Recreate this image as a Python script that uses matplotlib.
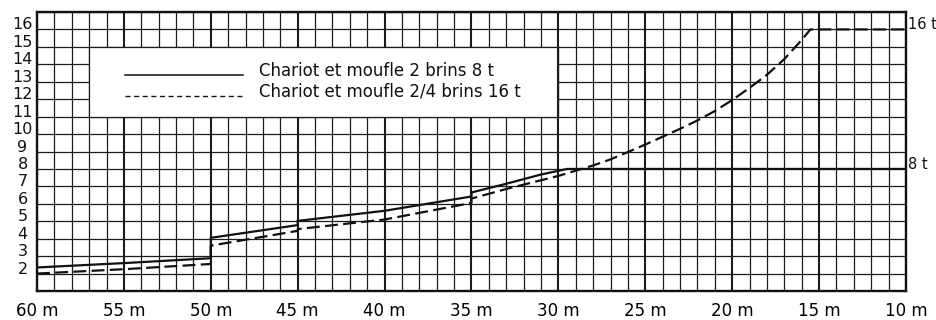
import numpy as np
import matplotlib
matplotlib.use("Agg")
import matplotlib.pyplot as plt
from matplotlib.patches import Rectangle

# Load chart: permissible load (t) versus hook reach (m)
reach_ticks = [60, 55, 50, 45, 40, 35, 30, 25, 20, 15, 10]
reach_labels = [f"{r} m" for r in reach_ticks]
load_labels = list(range(2, 17))

# Trolley with 2-fall block, 8 t max (repeated reach = step change)
reach_8t = [60, 55, 50, 50, 45, 45, 40, 35, 35, 33, 31, 29.5, 10]
load_8t = [2.35, 2.6, 2.88, 4.05, 4.78, 5.02, 5.6, 6.42, 6.65, 7.15, 7.68, 8.0, 8.0]

# Trolley with 2/4-fall block, 16 t max
reach_16t = [60, 55, 50, 50, 45, 45, 40, 35, 35, 33, 31, 30, 29, 28, 27, 26,
             25, 24, 23, 22, 21, 20, 19, 18, 17, 16, 15.5, 10]
load_16t = [2.0, 2.25, 2.55, 3.6, 4.45, 4.55, 5.1, 6.05, 6.3, 6.85, 7.35, 7.6,
            7.9, 8.2, 8.55, 8.97, 9.4, 9.85, 10.3, 10.78, 11.32, 11.95, 12.65,
            13.4, 14.3, 15.4, 16.0, 16.0]

legend_8t = "Chariot et moufle 2 brins 8 t"
legend_16t = "Chariot et moufle 2/4 brins 16 t"

W, H = 937, 320
fig = plt.figure(figsize=(W / 100, H / 100), dpi=100)
fig.patch.set_facecolor("white")
left, right, top, bottom = 37, 906, 12, 291
ax = fig.add_axes([left / W, (H - bottom) / H, (right - left) / W, (bottom - top) / H])

ax.set_xlim(60, 10)
ax.set_ylim(1, 17)

grid_col = "#1c1c1c"
ax.set_xticks(reach_ticks)
ax.set_xticklabels(reach_labels, fontsize=12, family="DejaVu Sans")
ax.set_xticks(np.arange(60, 9, -1), minor=True)
ax.set_yticks(np.arange(1, 18, 1))
ax.set_yticklabels([])
ax.tick_params(axis="both", which="both", length=0)
ax.tick_params(axis="x", pad=8)
ax.set_axisbelow(True)
ax.grid(which="major", axis="x", color=grid_col, lw=1.5)
ax.grid(which="minor", axis="x", color=grid_col, lw=0.9)
ax.grid(which="major", axis="y", color=grid_col, lw=0.9)
for sp in ax.spines.values():
    sp.set_linewidth(1.7)
    sp.set_color("#111111")

# Left load scale: figures sit on their grid line
for v in load_labels:
    ax.annotate(str(v), xy=(0, v), xycoords=("axes fraction", "data"),
                xytext=(-10.4, 0), textcoords="offset points",
                ha="center", va="baseline", fontsize=11.5, color="#111111")

# Legend panel cut out of the grid
ax.add_patch(Rectangle((57, 11), -27, 4, facecolor="white", edgecolor=grid_col,
                       lw=0.9, zorder=1))
ax.vlines(30, 11, 15, color=grid_col, lw=1.5, zorder=1.1)

ax.plot([54.94, 48.15], [13.36, 13.36], color="#111111", lw=1.1, zorder=2)
ax.plot([54.94, 48.15], [12.16, 12.16], color="#111111", lw=1.0,
        linestyle=(0, (3.6, 2.6)), zorder=2)
ax.text(47.23, 13.59, legend_8t, fontsize=12, va="center", ha="left",
        color="#111111", zorder=2)
ax.text(47.23, 12.45, legend_16t, fontsize=12, va="center", ha="left",
        color="#111111", zorder=2)

# Load curves
ax.plot(reach_8t, load_8t, color="#111111", lw=1.6, zorder=3,
        solid_joinstyle="miter")
ax.plot(reach_16t, load_16t, color="#111111", lw=1.6, zorder=3,
        linestyle=(0, (5.8, 2.4)))

# Maximum-load marks at the right edge
for v, s in [(16, "16 t"), (8, "8 t")]:
    ax.annotate(s, xy=(1, v), xycoords=("axes fraction", "data"),
                xytext=(1.5, 0), textcoords="offset points",
                ha="left", va="baseline", fontsize=10.5, color="#111111")

fig.savefig("out.png", dpi=100, facecolor="white")
